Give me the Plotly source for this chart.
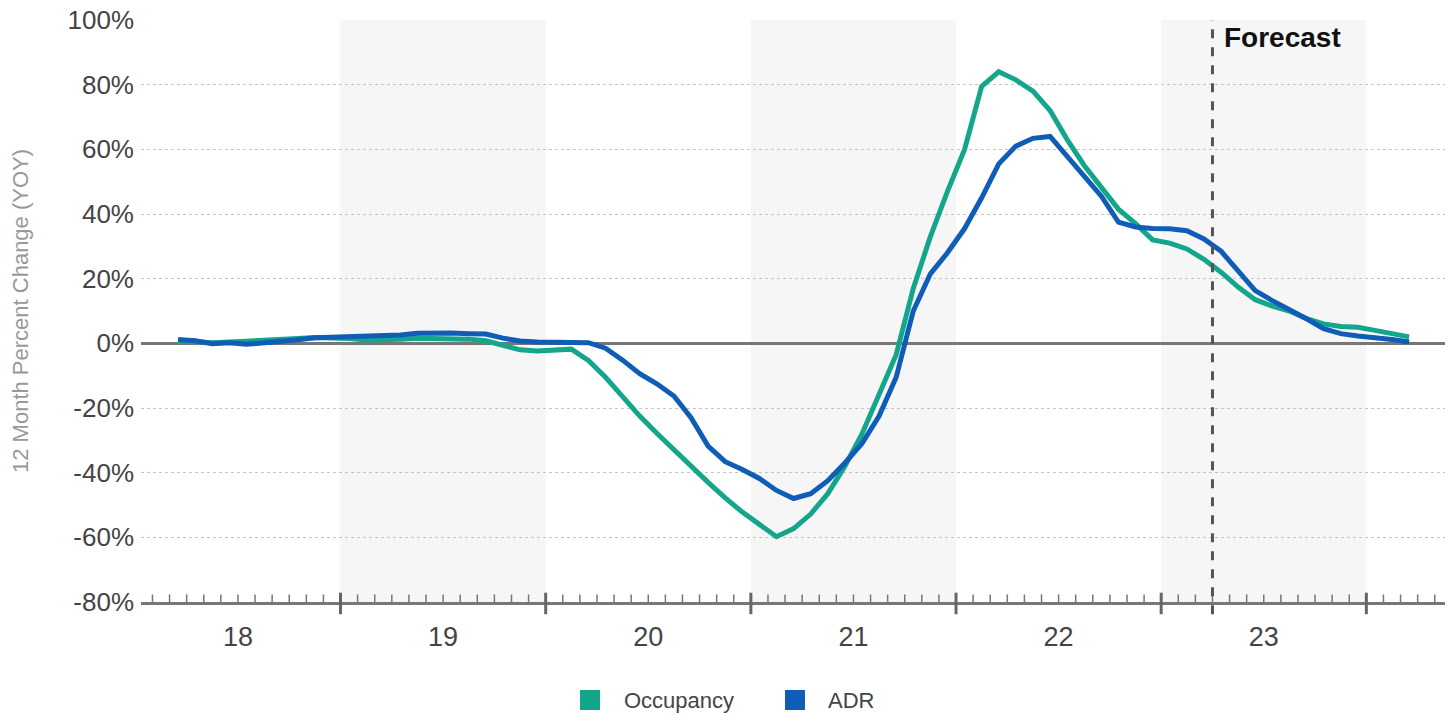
import plotly.graph_objects as go

# ---------------- data ----------------
months = [f"{y}-{m:02d}" for y in range(2018, 2025) for m in range(1, 13)]
months = months[2:75]  # 2018-03 .. 2024-03

occupancy = [
    0.8, 0.5, 0.2, 0.4, 0.6, 0.9, 1.2, 1.5, 1.8, 1.8,      # Mar18-Dec18
    1.5, 1.0, 1.0, 1.3, 1.6, 1.6, 1.6, 1.3, 0.8, -0.5, -2.0, -2.4,  # 2019
    -2.0, -1.8, -5.3, -10.5, -16.5, -22.5, -27.8, -33.0, -38.0, -43.0, -47.8, -52.2,  # 2020
    -56.0, -59.8, -57.3, -52.8, -46.5, -38.0, -28.0, -16.0, -3.5, 17.0, 33.0, 47.0,  # 2021
    60.0, 79.5, 84.0, 81.5, 78.0, 72.0, 63.0, 55.0, 48.5, 41.5, 37.0, 32.0,  # 2022
    31.0, 29.2, 26.0, 22.0, 17.4, 13.5, 11.5, 10.0, 7.6, 6.0, 5.2, 5.0,  # 2023
    4.0, 3.0, 2.0,  # 2024
]

adr = [
    1.2, 0.8, -0.1, 0.2, -0.3, 0.1, 0.6, 1.1, 1.7, 1.9,
    2.0, 2.1, 2.3, 2.6, 3.1, 3.2, 3.2, 3.0, 2.9, 1.6, 0.7, 0.4,
    0.3, 0.2, 0.2, -1.5, -5.2, -9.4, -12.5, -16.3, -23.0, -31.8, -36.6, -39.0,
    -41.8, -45.5, -48.0, -46.5, -42.5, -37.0, -31.0, -22.5, -10.5, 10.0, 21.5, 28.0,
    35.5, 45.0, 55.5, 61.0, 63.4, 64.0, 58.0, 51.5, 45.5, 37.5, 36.0, 35.5,
    35.4, 34.8, 32.3, 28.5, 22.3, 16.3, 13.2, 10.5, 7.6, 4.5, 3.0, 2.3,
    1.8, 1.2, 0.4,
]

year_labels = ["18", "19", "20", "21", "22", "23"]
y_ticks = [-80, -60, -40, -20, 0, 20, 40, 60, 80, 100]
forecast_start = "2023-04"
series_names = ["Occupancy", "ADR"]
series_colors = ["#13a68a", "#0f5db6"]


def month_pos(label, center=True):
    y, m = label.split("-")
    return (int(y) - 2018) * 12 + (int(m) - 1) + (0.5 if center else 0.0)


xs = [month_pos(m) for m in months]
FONT = "Liberation Sans, Arial, sans-serif"

# plot-area geometry (pixels)
L, R, T, B = 141, 3, 20, 113
W, H = 1448, 715
PW, PH = W - L - R, H - T - B


def px_x(px):
    return (px - L) / PW


def px_y(py):
    return (H - B - py) / PH


fig = go.Figure()
for name, vals, col in zip(series_names, [occupancy, adr], series_colors):
    fig.add_trace(go.Scatter(x=xs, y=vals, mode="lines", name=name,
                             line=dict(color=col, width=5), showlegend=False,
                             hoverinfo="skip"))

shapes = []
# alternating year shading
for k in (1, 3, 5):
    shapes.append(dict(type="rect", xref="x", yref="paper", x0=12 * k, x1=12 * (k + 1),
                       y0=0, y1=1, fillcolor="#f6f6f6", line=dict(width=0), layer="below"))
# month ticks
for mth in range(1, 77):
    if mth % 12 == 0:
        shapes.append(dict(type="line", xref="x", yref="paper", x0=mth, x1=mth,
                           y0=-0.021, y1=0.016, line=dict(color="#666", width=3)))
    else:
        shapes.append(dict(type="line", xref="x", yref="paper", x0=mth, x1=mth,
                           y0=0, y1=0.013, line=dict(color="#777", width=1.5)))
# forecast line
fx = month_pos(forecast_start, center=False)
shapes.append(dict(type="line", xref="x", yref="paper", x0=fx, x1=fx, y0=-0.021, y1=1,
                   line=dict(color="#555", width=3, dash="dash")))

# manual legend (squares + labels)
annotations = []
legend_sq_left = [580, 785]
legend_txt_left = [622, 826]
for name, col, sx, tx in zip(series_names, series_colors, legend_sq_left, legend_txt_left):
    shapes.append(dict(type="rect", xref="paper", yref="paper",
                       x0=px_x(sx), x1=px_x(sx + 20), y0=px_y(710), y1=px_y(690),
                       fillcolor=col, line=dict(width=0)))
    annotations.append(dict(text=name, xref="paper", yref="paper", x=px_x(tx), y=px_y(700),
                            xanchor="left", yanchor="middle", showarrow=False,
                            font=dict(size=22, color="#444", family=FONT)))

annotations += [
    dict(text="12 Month Percent Change (YOY)", xref="paper", yref="paper",
         x=px_x(20), y=0.5, xanchor="center", yanchor="middle",
         textangle=-90, showarrow=False, font=dict(size=22, color="#999", family=FONT)),
    dict(text="<b>Forecast</b>", xref="x", yref="paper", x=fx + 0.55, y=px_y(37),
         xanchor="left", yanchor="middle", showarrow=False,
         font=dict(size=28, color="#111", family=FONT)),
]

fig.update_layout(
    width=W, height=H,
    margin=dict(l=L, r=R, t=T, b=B, autoexpand=False),
    paper_bgcolor="white", plot_bgcolor="rgba(0,0,0,0)",
    font=dict(family=FONT, color="#444"),
    shapes=shapes,
    showlegend=False,
    xaxis=dict(range=[0.33, 76.6], tickmode="array",
               tickvals=[6 + 12 * i for i in range(len(year_labels))],
               ticktext=year_labels, ticks="", showgrid=False, zeroline=False,
               showline=True, linecolor="#777", linewidth=3, automargin=False,
               tickfont=dict(size=27, color="#444", family=FONT),
               ticklabelstandoff=9),
    yaxis=dict(range=[-80, 100], tickmode="array", tickvals=y_ticks,
               ticktext=[f"{v}%" for v in y_ticks],
               showgrid=True, gridcolor="#c4c4c4", griddash="dot",
               gridwidth=1, zeroline=True, zerolinecolor="#777", zerolinewidth=3,
               showline=False, ticks="", automargin=False,
               tickfont=dict(size=26, color="#444", family=FONT),
               ticklabelstandoff=6),
    annotations=annotations,
)

fig.write_html(
    "out.html",
    config={"displayModeBar": False},
    post_script="document.body.style.margin='0';document.body.style.overflow='hidden';",
)
